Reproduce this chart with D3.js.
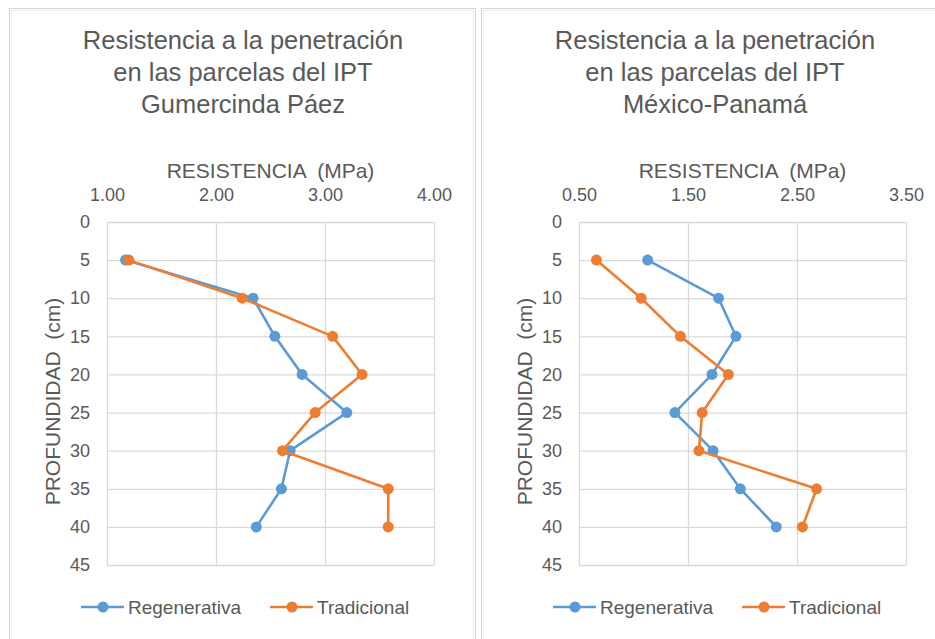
<!DOCTYPE html>
<html>
<head>
<meta charset="utf-8">
<script src="https://cdn.jsdelivr.net/npm/d3@7"></script>
<style>
  body { margin: 0; background: #fff; }
  svg text { font-family: "Liberation Sans", Arial, sans-serif; fill: #595959; white-space: pre; }
</style>
</head>
<body>
<script>
// depths (cm) shared by both plots
const depths = [5, 10, 15, 20, 25, 30, 35, 40];
const depthTicks = [0, 5, 10, 15, 20, 25, 30, 35, 40, 45];

// Gumercinda Páez
const gpTitle = ['Resistencia a la penetración', 'en las parcelas del IPT', 'Gumercinda Páez'];
const gpTicks = [1.0, 2.0, 3.0, 4.0];
const gpRegenerativa = [1.17, 2.34, 2.54, 2.79, 3.20, 2.68, 2.60, 2.37];
const gpTradicional = [1.20, 2.24, 3.07, 3.34, 2.91, 2.61, 3.58, 3.58];

// México-Panamá
const mpTitle = ['Resistencia a la penetración', 'en las parcelas del IPT', 'México-Panamá'];
const mpTicks = [0.5, 1.5, 2.5, 3.5];
const mpRegenerativa = [1.13, 1.78, 1.94, 1.72, 1.38, 1.73, 1.98, 2.31];
const mpTradicional = [0.66, 1.07, 1.43, 1.87, 1.63, 1.60, 2.68, 2.55];

const seriesNames = ['Regenerativa', 'Tradicional'];
const colors = ['#5b9bd5', '#ed7d31'];

const W = 935, H = 639;
const svg = d3.select('body').append('svg').attr('width', W).attr('height', H);

function drawPanel(left, ticks, title, regen, trad) {
  let g = svg.append('g').attr('transform', `translate(${left},0)`);

  // panel frame
  g.append('rect').attr('x', 0.5).attr('y', 8.5).attr('width', 466).attr('height', 660)
    .attr('fill', 'none').attr('stroke', '#d4d4d4');
  g.append('rect').attr('x', 2.5).attr('y', 10.5).attr('width', 462).attr('height', 660)
    .attr('fill', 'none').attr('stroke', '#ececec');

  let x0 = 98, x1 = 425, y0 = 222, y1 = 565;
  let x = d3.scaleLinear().domain([ticks[0], ticks[ticks.length - 1]]).range([x0, x1]);
  let y = d3.scaleLinear().domain([0, 45]).range([y0, y1]);
  let cx = (x0 + x1) / 2;

  // title
  g.append('text').attr('text-anchor', 'middle').style('font-size', '25.5px')
    .selectAll('tspan').data(title).enter().append('tspan')
      .attr('x', 234).attr('y', (d, i) => 49 + i * 32).text(d => d);

  // axis titles
  g.append('text').attr('x', cx).attr('y', 178).attr('text-anchor', 'middle')
    .style('font-size', '21px').text('RESISTENCIA  (MPa)');
  g.append('text').attr('transform', `translate(51,${(y0 + y1) / 2 + 8}) rotate(-90)`)
    .attr('text-anchor', 'middle').style('font-size', '21px').text('PROFUNDIDAD  (cm)');

  // gridlines
  let gx = g.append('g').attr('transform', `translate(0,${y0})`)
    .call(d3.axisTop(x).tickValues(ticks).tickSize(-(y1 - y0)).tickFormat(''));
  let gy = g.append('g').attr('transform', `translate(${x0},0)`)
    .call(d3.axisLeft(y).tickValues(depthTicks).tickSize(-(x1 - x0)).tickFormat(''));
  [gx, gy].forEach(a => {
    a.select('.domain').remove();
    a.selectAll('line').attr('stroke', '#d9d9d9').attr('stroke-width', 1.3);
  });

  // tick labels
  let ax = g.append('g').attr('transform', `translate(0,${y0 - 21})`)
    .call(d3.axisTop(x).tickValues(ticks).tickSize(0).tickPadding(0).tickFormat(d3.format('.2f')));
  let ay = g.append('g').attr('transform', `translate(${x0 - 17},0)`)
    .call(d3.axisLeft(y).tickValues(depthTicks).tickSize(0).tickPadding(0));
  [ax, ay].forEach(a => {
    a.select('.domain').remove();
    a.selectAll('text').style('font-size', '18px').attr('fill', '#595959')
      .style('font-family', '"Liberation Sans", Arial, sans-serif');
  });

  // series
  let line = d3.line().x(d => x(d[1])).y(d => y(d[0]));
  [regen, trad].forEach((vals, i) => {
    let pts = depths.map((d, j) => [d, vals[j]]);
    g.append('path').datum(pts).attr('d', line).attr('fill', 'none')
      .attr('stroke', colors[i]).attr('stroke-width', 2.6).attr('stroke-linejoin', 'round');
    g.append('g').selectAll('circle').data(pts).enter().append('circle')
      .attr('cx', d => x(d[1])).attr('cy', d => y(d[0])).attr('r', 5.5).attr('fill', colors[i]);
  });

  // legend
  let lx = [72, 261];
  seriesNames.forEach((name, i) => {
    let lg = g.append('g').attr('transform', `translate(${lx[i]},607)`);
    lg.append('line').attr('x1', 0).attr('x2', 43).attr('stroke', colors[i]).attr('stroke-width', 2.6);
    lg.append('circle').attr('cx', 22).attr('r', 5.5).attr('fill', colors[i]);
    lg.append('text').attr('x', 47).attr('y', 7).style('font-size', '19px').text(name);
  });
}

drawPanel(9, gpTicks, gpTitle, gpRegenerativa, gpTradicional);
drawPanel(481, mpTicks, mpTitle, mpRegenerativa, mpTradicional);
</script>
</body>
</html>
